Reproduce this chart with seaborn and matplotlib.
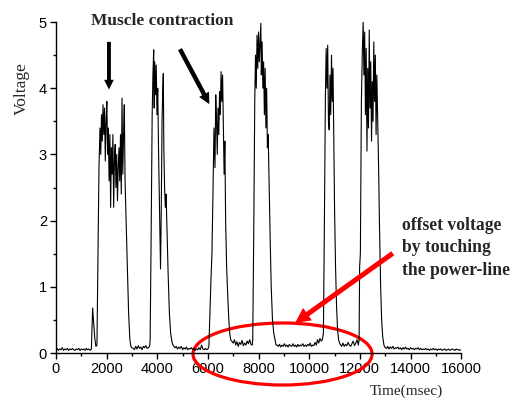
import numpy as np
import pandas as pd
import matplotlib
matplotlib.use("Agg")
import matplotlib.pyplot as plt
from matplotlib.patches import Ellipse
import seaborn as sns

# ---- data (time in ms, voltage in V) ----
base_a = [0.05,0.07,0.04,0.06,0.05,0.08,0.04,0.06,0.05,0.07,0.04,0.06,0.05,0.07,0.05,
          0.04,0.06,0.05,0.07,0.04,0.06,0.05,0.06,0.04,0.07,0.05,0.06,0.04,0.06]
t1 = [1420,1450,1490,1540,1580,1620,1660,1700,1740,1770,1800,1830,1860,1890,1920,1950,
      1980,2010,2040,2070,2100,2130,2160,2190,2220,2250,2280,2310,2340,2370,2400,2430,
      2460,2490,2520,2550,2580,2610,2640,2670,2700,2730,2770,2820,2870,2920,2960,3000]
v1 = [0.3,0.68,0.45,0.2,0.1,0.12,1.5,2.8,3.4,3.0,3.6,3.2,3.75,3.3,3.7,2.9,3.5,3.8,3.0,
      3.4,2.6,3.3,2.2,3.1,2.7,3.3,2.2,2.9,3.15,2.5,3.0,2.3,2.8,3.1,2.6,3.3,2.4,3.85,2.7,
      3.3,3.75,2.6,2.0,1.3,0.6,0.2,0.1,0.08]
base_b = [0.07,0.05,0.1,0.06,0.11,0.07,0.09,0.05,0.1,0.08,0.11,0.07,0.08,0.1]
t2 = [3720,3760,3800,3830,3860,3880,3900,3930,3960,3990,4020,4050,4080,4110,4130,4160,
      4190,4220,4240,4260,4290,4320,4350,4390,4430,4480,4530,4580,4620,4660]
v2 = [0.2,1.8,3.6,4.2,4.58,3.7,4.4,3.9,4.35,3.6,4.0,3.1,2.4,1.7,1.27,2.2,3.5,4.0,4.22,
      3.1,2.5,2.2,2.4,1.8,1.2,0.6,0.3,0.17,0.12,0.1]
base_c = [0.08,0.1,0.06,0.09,0.07,0.1,0.05,0.08,0.06,0.09,0.05,0.07,0.06,0.08,0.05,0.07,
          0.04,0.06,0.05,0.08,0.05,0.12,0.06,0.05,0.07,0.05,0.06]
t3 = [6040,6080,6120,6160,6200,6240,6280,6310,6340,6370,6400,6430,6460,6490,6520,6550,
      6580,6610,6640,6670,6700,6740,6780,6820,6860,6900,6940]
v3 = [0.1,0.6,1.1,1.5,2.4,3.4,2.8,3.9,3.5,3.0,3.7,3.3,3.95,3.6,4.25,3.8,4.2,3.4,2.7,3.2,
      2.0,1.3,0.9,0.55,0.3,0.2,0.18]
base_d = [0.15,0.2,0.12,0.17,0.1,0.16,0.13,0.19,0.11,0.15,0.12,0.18,0.14,0.2,0.13,0.12]
t4 = [7770,7810,7850,7880,7910,7940,7970,8000,8030,8060,8090,8110,8140,8170,8200,8230,
      8260,8290,8320,8350,8380,8420,8460,8500,8550,8600,8650,8690]
v4 = [0.2,1.8,3.8,4.5,4.0,4.8,4.3,4.85,4.4,4.7,4.98,4.2,4.7,4.0,4.4,3.6,4.3,3.4,4.0,3.1,
      3.3,2.5,1.7,1.0,0.5,0.3,0.2,0.12]
base_e = [0.12,0.1,0.13,0.09,0.12,0.1,0.14,0.1,0.12,0.09,0.13,0.11,0.1,0.14,0.1,0.12,0.09,
          0.13,0.1,0.12,0.11,0.14,0.1,0.12,0.1,0.13,0.11,0.15,0.1,0.12,0.11,0.16,0.12,0.2,
          0.15,0.22,0.18,0.2]
t5 = [10560,10600,10640,10670,10700,10730,10760,10790,10820,10850,10880,10910,10940,10970,
      11000,11040,11080,11120,11160,11200,11240]
v5 = [0.3,2.0,3.9,4.6,4.0,4.65,3.5,3.37,4.2,3.6,4.5,3.8,4.3,3.2,2.2,1.3,0.7,0.35,0.2,0.15,0.12]
base_f = [0.1,0.15,0.1,0.13,0.11,0.16,0.12,0.1,0.14,0.18,0.11,0.15,0.2,0.12]
t6 = [11970,11990,12020,12060,12100,12130,12160,12190,12220,12250,12280,12310,12340,12370,
      12400,12430,12460,12490,12520,12550,12580,12610,12640,12670,12700,12740,12780,12820,
      12860,12900,12950,13000]
v6 = [0.2,1.3,1.5,3.8,4.6,5.0,4.2,4.85,3.6,4.6,3.05,4.3,3.4,4.88,3.7,4.4,3.2,4.1,3.5,4.7,
      3.8,4.5,3.3,4.2,3.6,2.8,1.8,1.0,0.5,0.25,0.12,0.08]
base_g = [0.07,0.1,0.06,0.09,0.07,0.1,0.06,0.08,0.07,0.09,0.06,0.08,0.05,0.08,0.06,0.09,
          0.06,0.07,0.05,0.08,0.06,0.07,0.05,0.07,0.06,0.08,0.05,0.07,0.05,0.06,0.05,0.07,
          0.05,0.06,0.04,0.06,0.05,0.07,0.05,0.06,0.04,0.06,0.05,0.06,0.04,0.05,0.06,0.04,
          0.05,0.06,0.04,0.05,0.06,0.05,0.04,0.06,0.05,0.05,0.04,0.05]
# baseline stretches: (start ms, end ms, values sampled evenly)
baselines = [(0, 1400, base_a), (3050, 3700, base_b), (4700, 6000, base_c),
             (7000, 7750, base_d), (8730, 10520, base_e), (11280, 11940, base_f),
             (13050, 16000, base_g)]
bursts = [(t1, v1), (t2, v2), (t3, v3), (t4, v4), (t5, v5), (t6, v6)]

times, volts = [], []
for i, (s, e, vals) in enumerate(baselines):
    times.extend(np.linspace(s, e, len(vals)).tolist())
    volts.extend(vals)
    if i < len(bursts):
        bt, bv = bursts[i]
        n = min(len(bt), len(bv))
        times.extend(bt[:n])
        volts.extend(bv[:n])
df = pd.DataFrame({"t": times, "v": volts}).sort_values("t")

# ---- plot ----
sns.set_theme(style="ticks")
plt.rcParams["font.family"] = ["Liberation Sans", "DejaVu Sans"]

fig = plt.figure(figsize=(5.13, 4.01), dpi=100)
ax = fig.add_axes([0.109, 0.1197, 0.790, 0.8254])
sns.lineplot(data=df, x="t", y="v", estimator=None, sort=False, color="black",
             lw=0.8, ax=ax)

ax.set_xlim(0, 16000)
ax.set_ylim(0, 5)
ax.set_xticks([0, 2000, 4000, 6000, 8000, 10000, 12000, 14000, 16000])
ax.set_yticks([0, 1, 2, 3, 4, 5])
ax.set_xticks(np.arange(1000, 16000, 2000), minor=True)
ax.set_yticks(np.arange(0.5, 5, 1.0), minor=True)
ax.tick_params(which="major", length=4.5, width=1, labelsize=10.5, colors="black", pad=2)
ax.tick_params(which="minor", length=2.5, width=1, colors="black")
for s in ["left", "bottom"]:
    ax.spines[s].set_linewidth(1.0)
    ax.spines[s].set_color("black")
sns.despine(ax=ax)

serif = ["Liberation Serif", "DejaVu Serif"]
ax.set_ylabel("Voltage", family=serif, fontsize=12.5, va="center")
ax.yaxis.set_label_coords(-0.083, 0.8)
ax.set_xlabel("Time(msec)", family=serif, fontsize=11, va="center")
ax.xaxis.set_label_coords(0.864, -0.117)

ax.text(4187, 5.02, "Muscle contraction", family=serif, weight="bold", fontsize=12.5,
        ha="center", va="center", clip_on=False)
ax.text(13654, 1.59, "offset voltage\nby touching\nthe power-line", family=serif,
        weight="bold", fontsize=12.7, ha="left", va="center", linespacing=1.42,
        clip_on=False)

ax.annotate("", xy=(2094, 3.98), xytext=(2094, 4.70),
            arrowprops=dict(facecolor="black", edgecolor="none", width=2.8,
                            headwidth=7, headlength=7), annotation_clip=False)
ax.annotate("", xy=(6056, 3.76), xytext=(4898, 4.59),
            arrowprops=dict(facecolor="black", edgecolor="none", width=3.2,
                            headwidth=8, headlength=8), annotation_clip=False)
ax.annotate("", xy=(9441, 0.453), xytext=(13300, 1.506),
            arrowprops=dict(facecolor="red", edgecolor="none", width=3.6,
                            headwidth=11, headlength=11), annotation_clip=False)
ax.add_patch(Ellipse((8947, -0.015), 7071, 0.937, fill=False, edgecolor="red",
                     lw=2.3, clip_on=False))

fig.savefig("out.png", dpi=100)
